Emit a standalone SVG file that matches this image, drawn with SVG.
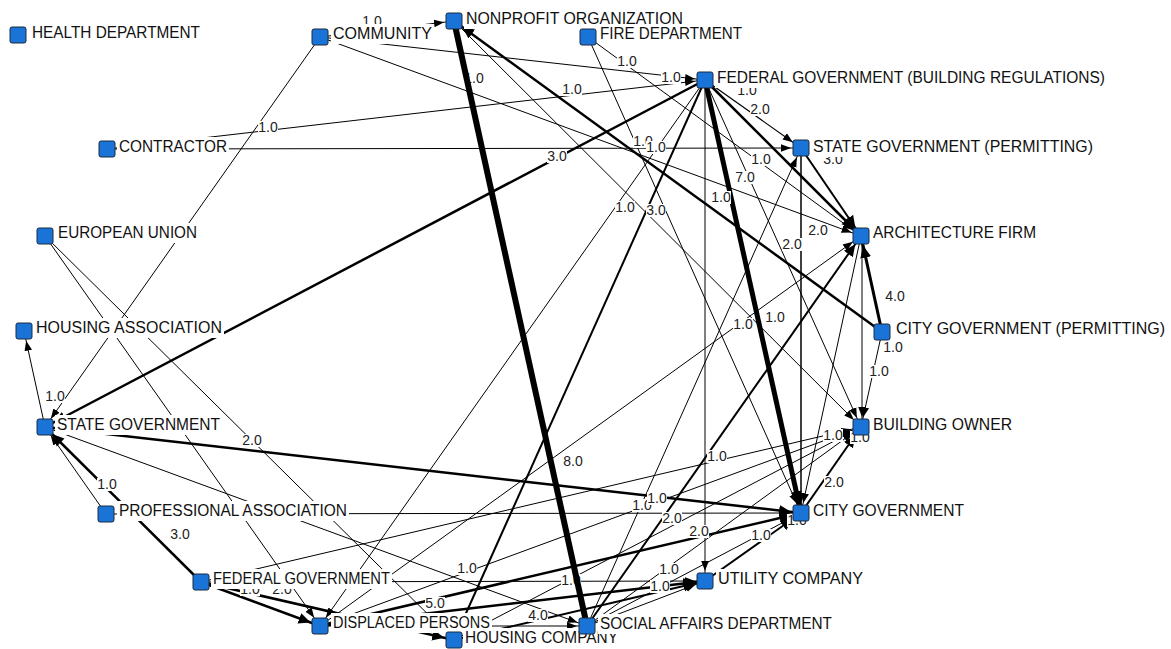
<svg xmlns="http://www.w3.org/2000/svg" width="1171" height="649" viewBox="0 0 1171 649">
<style>
.e{stroke:#000;fill:none}
.el rect{fill:#fff}
.el text{font-family:"Liberation Sans",Arial,sans-serif;font-size:14px;fill:#222;text-anchor:middle}
.n rect.sq{fill:#1a74d8;stroke:#1b2a40;stroke-width:1}
.n rect.bg{fill:#fff}
.n text{font-family:"Liberation Sans",Arial,sans-serif;font-size:16px;fill:#111}
</style>
<defs>
<marker id="a" markerUnits="userSpaceOnUse" viewBox="0 0 22 10" markerWidth="22" markerHeight="10" refX="20" refY="5" orient="auto"><path d="M0,1.2 L10,5 L0,8.8 z" fill="#000"/></marker>
<marker id="b" markerUnits="userSpaceOnUse" viewBox="0 0 24 14" markerWidth="24" markerHeight="14" refX="22" refY="7" orient="auto"><path d="M0,1.5 L12,7 L0,12.5 z" fill="#000"/></marker>
</defs>
<rect width="1171" height="649" fill="#fff"/>
<g id="connectors">
<line class="e" x1="320" y1="37" x2="45" y2="427" stroke-width="1" marker-end="url(#a)"/>
<line class="e" x1="320" y1="37" x2="705" y2="80" stroke-width="1" marker-end="url(#a)"/>
<line class="e" x1="320" y1="37" x2="861" y2="236" stroke-width="1" marker-end="url(#a)"/>
<line class="e" x1="320" y1="37" x2="454" y2="21" stroke-width="1" marker-end="url(#a)"/>
<line class="e" x1="882" y1="332" x2="454" y2="21" stroke-width="2.5" marker-end="url(#b)"/>
<line class="e" x1="454" y1="21" x2="861" y2="427" stroke-width="1" marker-end="url(#a)"/>
<line class="e" x1="705" y1="80" x2="801" y2="148" stroke-width="1.2" marker-end="url(#a)"/>
<line class="e" x1="705" y1="80" x2="861" y2="236" stroke-width="2.5" marker-end="url(#b)"/>
<line class="e" x1="801" y1="148" x2="861" y2="236" stroke-width="2" marker-end="url(#b)"/>
<line class="e" x1="705" y1="80" x2="801" y2="513" stroke-width="5" marker-end="url(#b)"/>
<line class="e" x1="705" y1="80" x2="705" y2="581" stroke-width="1" marker-end="url(#a)"/>
<line class="e" x1="801" y1="148" x2="801" y2="513" stroke-width="1.5" marker-end="url(#a)"/>
<line class="e" x1="705" y1="80" x2="45" y2="427" stroke-width="2.5" marker-end="url(#b)"/>
<line class="e" x1="705" y1="80" x2="454" y2="640" stroke-width="2" marker-end="url(#b)"/>
<line class="e" x1="705" y1="80" x2="320" y2="626" stroke-width="1" marker-end="url(#a)"/>
<line class="e" x1="107" y1="149" x2="705" y2="80" stroke-width="1" marker-end="url(#a)"/>
<line class="e" x1="107" y1="149" x2="801" y2="148" stroke-width="1" marker-end="url(#a)"/>
<line class="e" x1="45" y1="236" x2="320" y2="626" stroke-width="1" marker-end="url(#a)"/>
<line class="e" x1="45" y1="236" x2="454" y2="640" stroke-width="1" marker-end="url(#a)"/>
<line class="e" x1="45" y1="427" x2="24" y2="331" stroke-width="1" marker-end="url(#a)"/>
<line class="e" x1="106" y1="514" x2="45" y2="427" stroke-width="1" marker-end="url(#a)"/>
<line class="e" x1="201" y1="582" x2="45" y2="427" stroke-width="2.5" marker-end="url(#b)"/>
<line class="e" x1="45" y1="427" x2="801" y2="513" stroke-width="2.5" marker-end="url(#b)"/>
<line class="e" x1="882" y1="332" x2="861" y2="236" stroke-width="3" marker-end="url(#b)"/>
<line class="e" x1="862" y1="236" x2="862" y2="427" stroke-width="1" marker-end="url(#a)"/>
<line class="e" x1="882" y1="332" x2="861" y2="427" stroke-width="1" marker-end="url(#a)"/>
<line class="e" x1="587" y1="626" x2="861" y2="236" stroke-width="2" marker-end="url(#b)"/>
<line class="e" x1="320" y1="626" x2="861" y2="236" stroke-width="1" marker-end="url(#a)"/>
<line class="e" x1="861" y1="236" x2="801" y2="513" stroke-width="1" marker-end="url(#a)"/>
<line class="e" x1="106" y1="514" x2="801" y2="513" stroke-width="1" marker-end="url(#a)"/>
<line class="e" x1="201" y1="582" x2="705" y2="581" stroke-width="1" marker-end="url(#a)"/>
<line class="e" x1="320" y1="626" x2="801" y2="513" stroke-width="2.5" marker-end="url(#b)"/>
<line class="e" x1="320" y1="626" x2="705" y2="581" stroke-width="2.5" marker-end="url(#b)"/>
<line class="e" x1="588" y1="37" x2="861" y2="236" stroke-width="1" marker-end="url(#a)"/>
<line class="e" x1="588" y1="37" x2="801" y2="513" stroke-width="1" marker-end="url(#a)"/>
<line class="e" x1="201" y1="582" x2="861" y2="427" stroke-width="1" marker-end="url(#a)"/>
<line class="e" x1="801" y1="513" x2="861" y2="427" stroke-width="2" marker-end="url(#b)"/>
<line class="e" x1="454" y1="640" x2="861" y2="427" stroke-width="1" marker-end="url(#a)"/>
<line class="e" x1="320" y1="626" x2="861" y2="427" stroke-width="1" marker-end="url(#a)"/>
<line class="e" x1="45" y1="427" x2="587" y2="626" stroke-width="1" marker-end="url(#a)"/>
<line class="e" x1="201" y1="582" x2="454" y2="640" stroke-width="2.5" marker-end="url(#b)"/>
<line class="e" x1="201" y1="582" x2="320" y2="626" stroke-width="2.5" marker-end="url(#b)"/>
<line class="e" x1="705" y1="80" x2="861" y2="427" stroke-width="1" marker-end="url(#a)"/>
<line class="e" x1="587" y1="626" x2="801" y2="148" stroke-width="1" marker-end="url(#a)"/>
<line class="e" x1="587" y1="626" x2="705" y2="581" stroke-width="1" marker-end="url(#a)"/>
<line class="e" x1="705" y1="581" x2="801" y2="513" stroke-width="2" marker-end="url(#b)"/>
<line class="e" x1="320" y1="626" x2="587" y2="626" stroke-width="1" marker-end="url(#a)"/>
<line class="e" x1="454" y1="640" x2="705" y2="581" stroke-width="2" marker-end="url(#b)"/>
<line class="e" x1="587" y1="626" x2="801" y2="513" stroke-width="1" marker-end="url(#a)"/>
<line class="e" x1="587" y1="626" x2="861" y2="427" stroke-width="1" marker-end="url(#a)"/>
</g>
<g id="edge-labels" class="el">
<g><rect x="362" y="15" width="20" height="13"/><text x="372" y="26">1.0</text></g>
<g><rect x="661" y="71" width="20" height="13"/><text x="671" y="82">1.0</text></g>
<g><rect x="617" y="55" width="20" height="13"/><text x="627" y="66">1.0</text></g>
<g><rect x="562" y="83" width="20" height="13"/><text x="572" y="94">1.0</text></g>
<g><rect x="258" y="121" width="20" height="13"/><text x="268" y="132">1.0</text></g>
<g><rect x="464" y="72" width="20" height="13"/><text x="474" y="83">1.0</text></g>
<g><rect x="750" y="103" width="20" height="13"/><text x="760" y="114">2.0</text></g>
<g><rect x="737" y="84" width="20" height="13"/><text x="747" y="95">1.0</text></g>
<g><rect x="823" y="153" width="20" height="13"/><text x="833" y="164">3.0</text></g>
<g><rect x="735" y="171" width="20" height="13"/><text x="745" y="182">7.0</text></g>
<g><rect x="711" y="191" width="20" height="13"/><text x="721" y="202">1.0</text></g>
<g><rect x="751" y="153" width="20" height="13"/><text x="761" y="164">1.0</text></g>
<g><rect x="633" y="135" width="20" height="13"/><text x="643" y="146">1.0</text></g>
<g><rect x="646" y="141" width="20" height="13"/><text x="656" y="152">1.0</text></g>
<g><rect x="547" y="150" width="20" height="13"/><text x="557" y="161">3.0</text></g>
<g><rect x="646" y="204" width="20" height="13"/><text x="656" y="215">3.0</text></g>
<g><rect x="615" y="201" width="20" height="13"/><text x="625" y="212">1.0</text></g>
<g><rect x="808" y="224" width="20" height="13"/><text x="818" y="235">2.0</text></g>
<g><rect x="782" y="238" width="20" height="13"/><text x="792" y="249">2.0</text></g>
<g><rect x="885" y="290" width="20" height="13"/><text x="895" y="301">4.0</text></g>
<g><rect x="883" y="341" width="20" height="13"/><text x="893" y="352">1.0</text></g>
<g><rect x="869" y="365" width="20" height="13"/><text x="879" y="376">1.0</text></g>
<g><rect x="733" y="318" width="20" height="13"/><text x="743" y="329">1.0</text></g>
<g><rect x="765" y="311" width="20" height="13"/><text x="775" y="322">1.0</text></g>
<g><rect x="45" y="390" width="20" height="13"/><text x="55" y="401">1.0</text></g>
<g><rect x="242" y="434" width="20" height="13"/><text x="252" y="445">2.0</text></g>
<g><rect x="97" y="478" width="20" height="13"/><text x="107" y="489">1.0</text></g>
<g><rect x="170" y="528" width="20" height="13"/><text x="180" y="539">3.0</text></g>
<g><rect x="563" y="455" width="20" height="13"/><text x="573" y="466">8.0</text></g>
<g><rect x="823" y="429" width="20" height="13"/><text x="833" y="440">1.0</text></g>
<g><rect x="850" y="431" width="20" height="13"/><text x="860" y="442">1.0</text></g>
<g><rect x="824" y="476" width="20" height="13"/><text x="834" y="487">2.0</text></g>
<g><rect x="632" y="499" width="20" height="13"/><text x="642" y="510">1.0</text></g>
<g><rect x="647" y="492" width="20" height="13"/><text x="657" y="503">1.0</text></g>
<g><rect x="662" y="512" width="20" height="13"/><text x="672" y="523">2.0</text></g>
<g><rect x="689" y="525" width="20" height="13"/><text x="699" y="536">2.0</text></g>
<g><rect x="751" y="529" width="20" height="13"/><text x="761" y="540">1.0</text></g>
<g><rect x="659" y="563" width="20" height="13"/><text x="669" y="574">1.0</text></g>
<g><rect x="650" y="580" width="20" height="13"/><text x="660" y="591">1.0</text></g>
<g><rect x="707" y="450" width="20" height="13"/><text x="717" y="461">1.0</text></g>
<g><rect x="425" y="597" width="20" height="13"/><text x="435" y="608">5.0</text></g>
<g><rect x="528" y="609" width="20" height="13"/><text x="538" y="620">4.0</text></g>
<g><rect x="561" y="574" width="20" height="13"/><text x="571" y="585">1.0</text></g>
<g><rect x="457" y="562" width="20" height="13"/><text x="467" y="573">1.0</text></g>
<g><rect x="272" y="583" width="20" height="13"/><text x="282" y="594">2.0</text></g>
<g><rect x="240" y="583" width="20" height="13"/><text x="250" y="594">1.0</text></g>
<g><rect x="787" y="514" width="20" height="13"/><text x="797" y="525">1.0</text></g>
</g>
<g id="connector-heavy">
<line class="e" x1="587" y1="626" x2="454" y2="21" stroke-width="6"/>
</g>
<g id="n-health" class="n"><rect class="bg" x="30" y="23" width="172" height="20"/><rect class="sq" x="10" y="27" width="16" height="16" rx="2"/><text x="32" y="38" textLength="168" lengthAdjust="spacingAndGlyphs">HEALTH DEPARTMENT</text></g>
<g id="n-community" class="n"><rect class="bg" x="331" y="24" width="103" height="20"/><rect class="sq" x="312" y="29" width="16" height="16" rx="2"/><text x="333" y="39" textLength="99" lengthAdjust="spacingAndGlyphs">COMMUNITY</text></g>
<g id="n-nonprofit" class="n"><rect class="bg" x="464" y="9" width="221" height="20"/><rect class="sq" x="446" y="13" width="16" height="16" rx="2"/><text x="466" y="24" textLength="217" lengthAdjust="spacingAndGlyphs">NONPROFIT ORGANIZATION</text></g>
<g id="n-fire" class="n"><rect class="bg" x="598" y="24" width="146" height="20"/><rect class="sq" x="580" y="29" width="16" height="16" rx="2"/><text x="600" y="39" textLength="142" lengthAdjust="spacingAndGlyphs">FIRE DEPARTMENT</text></g>
<g id="n-fedbuild" class="n"><rect class="bg" x="715" y="68" width="392" height="20"/><rect class="sq" x="697" y="72" width="16" height="16" rx="2"/><text x="717" y="83" textLength="388" lengthAdjust="spacingAndGlyphs">FEDERAL GOVERNMENT (BUILDING REGULATIONS)</text></g>
<g id="n-contractor" class="n"><rect class="bg" x="117" y="137" width="112" height="20"/><rect class="sq" x="99" y="141" width="16" height="16" rx="2"/><text x="119" y="152" textLength="108" lengthAdjust="spacingAndGlyphs">CONTRACTOR</text></g>
<g id="n-statepermit" class="n"><rect class="bg" x="811" y="137" width="284" height="20"/><rect class="sq" x="793" y="140" width="16" height="16" rx="2"/><text x="813" y="152" textLength="280" lengthAdjust="spacingAndGlyphs">STATE GOVERNMENT (PERMITTING)</text></g>
<g id="n-eu" class="n"><rect class="bg" x="56" y="223" width="143" height="20"/><rect class="sq" x="37" y="228" width="16" height="16" rx="2"/><text x="58" y="238" textLength="139" lengthAdjust="spacingAndGlyphs">EUROPEAN UNION</text></g>
<g id="n-arch" class="n"><rect class="bg" x="871" y="223" width="167" height="20"/><rect class="sq" x="853" y="228" width="16" height="16" rx="2"/><text x="873" y="238" textLength="163" lengthAdjust="spacingAndGlyphs">ARCHITECTURE FIRM</text></g>
<g id="n-housingassoc" class="n"><rect class="bg" x="34" y="318" width="190" height="20"/><rect class="sq" x="16" y="323" width="16" height="16" rx="2"/><text x="36" y="333" textLength="186" lengthAdjust="spacingAndGlyphs">HOUSING ASSOCIATION</text></g>
<g id="n-citypermit" class="n"><rect class="bg" x="894" y="319" width="273" height="20"/><rect class="sq" x="874" y="324" width="16" height="16" rx="2"/><text x="896" y="334" textLength="269" lengthAdjust="spacingAndGlyphs">CITY GOVERNMENT (PERMITTING)</text></g>
<g id="n-stategov" class="n"><rect class="bg" x="55" y="415" width="167" height="20"/><rect class="sq" x="37" y="419" width="16" height="16" rx="2"/><text x="57" y="430" textLength="163" lengthAdjust="spacingAndGlyphs">STATE GOVERNMENT</text></g>
<g id="n-owner" class="n"><rect class="bg" x="871" y="415" width="143" height="20"/><rect class="sq" x="853" y="419" width="16" height="16" rx="2"/><text x="873" y="430" textLength="139" lengthAdjust="spacingAndGlyphs">BUILDING OWNER</text></g>
<g id="n-profassoc" class="n"><rect class="bg" x="117" y="501" width="232" height="20"/><rect class="sq" x="98" y="506" width="16" height="16" rx="2"/><text x="119" y="516" textLength="228" lengthAdjust="spacingAndGlyphs">PROFESSIONAL ASSOCIATION</text></g>
<g id="n-citygov" class="n"><rect class="bg" x="811" y="501" width="155" height="20"/><rect class="sq" x="793" y="505" width="16" height="16" rx="2"/><text x="813" y="516" textLength="151" lengthAdjust="spacingAndGlyphs">CITY GOVERNMENT</text></g>
<g id="n-fedgov" class="n"><rect class="bg" x="211" y="569" width="181" height="20"/><rect class="sq" x="193" y="574" width="16" height="16" rx="2"/><text x="213" y="584" textLength="177" lengthAdjust="spacingAndGlyphs">FEDERAL GOVERNMENT</text></g>
<g id="n-utility" class="n"><rect class="bg" x="716" y="569" width="149" height="20"/><rect class="sq" x="697" y="573" width="16" height="16" rx="2"/><text x="718" y="584" textLength="145" lengthAdjust="spacingAndGlyphs">UTILITY COMPANY</text></g>
<g id="n-displaced" class="n"><rect class="bg" x="331" y="613" width="161" height="20"/><rect class="sq" x="312" y="618" width="16" height="16" rx="2"/><text x="333" y="628" textLength="157" lengthAdjust="spacingAndGlyphs">DISPLACED PERSONS</text></g>
<g id="n-housingco" class="n"><rect class="bg" x="463" y="628" width="157" height="20"/><rect class="sq" x="446" y="632" width="16" height="16" rx="2"/><text x="465" y="643" textLength="153" lengthAdjust="spacingAndGlyphs">HOUSING COMPANY</text></g>
<g id="n-social" class="n"><rect class="bg" x="598" y="614" width="236" height="20"/><rect class="sq" x="579" y="618" width="16" height="16" rx="2"/><text x="600" y="629" textLength="232" lengthAdjust="spacingAndGlyphs">SOCIAL AFFAIRS DEPARTMENT</text></g>
</svg>
